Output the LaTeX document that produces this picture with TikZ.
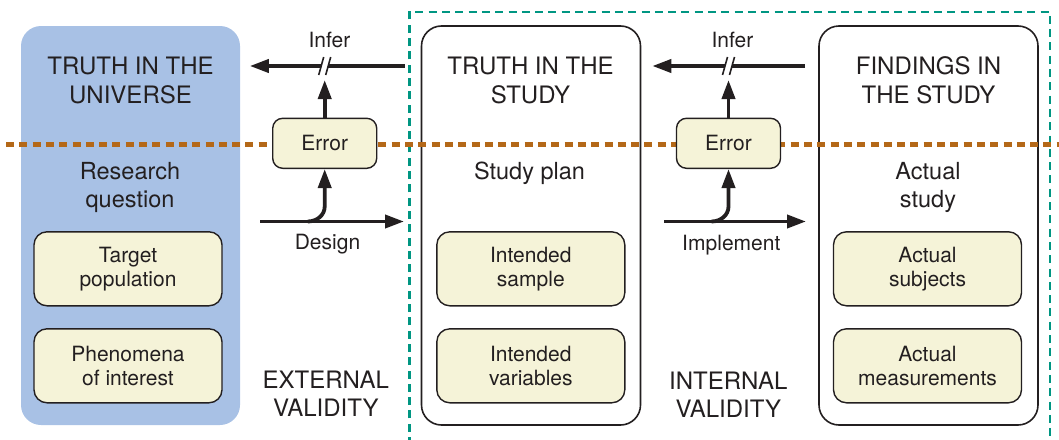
\documentclass[tikz,border=0pt]{standalone}
\usepackage{fontspec}
\setmainfont{TeX Gyre Heros}
\usetikzlibrary{arrows.meta,positioning}
\definecolor{uniblue}{RGB}{168,193,229}
\definecolor{boxyellow}{RGB}{245,243,216}
\definecolor{splitorange}{RGB}{180,104,24}
\definecolor{framegreen}{RGB}{0,150,130}
\definecolor{ink}{RGB}{35,31,32}

\begin{document}
\begin{tikzpicture}[x=1pt,y=-1pt,>={Triangle[length=19pt,width=13pt]},
    every node/.style={text=ink},
    bigtext/.style={font=\fontsize{24}{28.4}\selectfont,align=center,anchor=base},
    midtext/.style={font=\fontsize{23.5}{28}\selectfont,align=center,anchor=base},
    smalltext/.style={font=\fontsize{21}{24}\selectfont,align=center},
    panel/.style={rounded corners=20pt,minimum width=219pt,minimum height=399pt,line width=1.6pt,draw=ink},
    item/.style={smalltext,draw=ink,fill=boxyellow,rounded corners=13pt,line width=1.4pt,minimum width=188pt,minimum height=74pt},
    errbox/.style={item,minimum width=104pt,minimum height=50pt,rounded corners=10pt},
    flow/.style={->,line width=3.8pt,draw=ink},
    cut/.style={line width=1.6pt,draw=ink}]
  \useasboundingbox (0,0) rectangle (1059,439);
  \node[panel,draw=none,fill=uniblue] (uni) at (130.5,225.5) {};
  \node[panel] (plan) at (531,225.5) {};
  \node[panel] (find) at (928.5,225.5) {};
  \draw[framegreen,line width=2.6pt,dash pattern=on 8pt off 5.3pt] (409.5,445) |- (1050,12) -- (1050,445);

  \node[bigtext] (unititle) at (130.5,103.3) {TRUTH IN THE\\UNIVERSE};
  \node[bigtext] (plantitle) at (530.5,103.3) {TRUTH IN THE\\STUDY};
  \node[bigtext] (findtitle) at (928.5,103.3) {FINDINGS IN\\THE STUDY};
  \node[midtext] (unisub) at (130,207.3) {Research\\question};
  \node[midtext] (plansub) at (529.5,179.3) {Study plan};
  \node[midtext] (findsub) at (928,207.3) {Actual\\study};

  \node[item] (tp) at (128,268.8) {Target\\population};
  \node[item,below=21.6pt of tp] (ph) {Phenomena\\of interest};
  \node[item] (is) at (530.8,268.8) {Intended\\sample};
  \node[item,below=21.6pt of is] (iv) {Intended\\variables};
  \node[item] (as) at (927.5,268.8) {Actual\\subjects};
  \node[item,below=21.6pt of as] (am) {Actual\\measurements};

  \draw[splitorange,line width=4.7pt,dash pattern=on 8pt off 5.3pt] (6,144.5) -- (1059,144.5);

  \node[errbox] (e1) at (324.7,143.3) {Error};
  \node[errbox] (e2) at (728.5,143.3) {Error};

  \coordinate (c1) at (e1 |- 0,66);
  \coordinate (c2) at (e2 |- 0,66);
  \draw[line width=3.8pt,ink] ([xshift=-16pt]plan.west |- c1) -- ([xshift=3.5pt]c1);
  \draw[flow] ([xshift=-3.5pt]c1) -- ([xshift=9pt]uni.east |- c1);
  \draw[cut] ([shift={(-6,9)}]c1) -- ([shift={(-1,-9)}]c1);
  \draw[cut] ([shift={(1,9)}]c1) -- ([shift={(6,-9)}]c1);
  \draw[flow] (e1) -- ([yshift=-14pt]c1);
  \draw[line width=3.8pt,ink] ([xshift=-13pt]find.west |- c2) -- ([xshift=3.5pt]c2);
  \draw[flow] ([xshift=-3.5pt]c2) -- ([xshift=11pt]plan.east |- c2);
  \draw[cut] ([shift={(-6,9)}]c2) -- ([shift={(-1,-9)}]c2);
  \draw[cut] ([shift={(1,9)}]c2) -- ([shift={(6,-9)}]c2);
  \draw[flow] (e2) -- ([yshift=-14pt]c2);
  \node[smalltext,anchor=base] (inf1) at (329.5,47) {Infer};
  \node[smalltext,anchor=base] (inf2) at (732.5,47) {Infer};

  \coordinate (d1) at (260,221.5);
  \coordinate (d2) at (404,221.5);
  \draw[flow] (d1) -- (d2);
  \draw[flow] (e1.south |- d1) ++(-17,0) to[out=0,in=-90] ++(17,-15) -- (e1.south);
  \coordinate (m1) at (664,221.5);
  \coordinate (m2) at (806,221.5);
  \draw[flow] (m1) -- (m2);
  \draw[flow] (e2.south |- m1) ++(-17,0) to[out=0,in=-90] ++(17,-15) -- (e2.south);
  \node[smalltext,anchor=base] (dlab) at (327.5,249.5) {Design};
  \node[smalltext,anchor=base] (mlab) at (731.3,250) {Implement};

  \node[bigtext] (ext) at (325.8,416.7) {EXTERNAL\\VALIDITY};
  \node[bigtext] (int) at (728.3,417.7) {INTERNAL\\VALIDITY};
\end{tikzpicture}
\end{document}
